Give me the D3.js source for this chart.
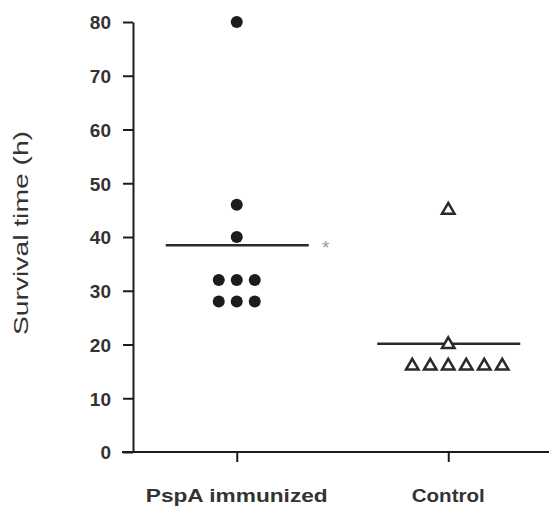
<!DOCTYPE html>
<html>
<head>
<meta charset="utf-8">
<script src="https://cdn.jsdelivr.net/npm/d3@7/dist/d3.min.js"></script>
<style>
  html, body { margin: 0; padding: 0; background: #fff; }
  svg { display: block; }
  text { font-family: Arial, "Liberation Sans", sans-serif; }
</style>
</head>
<body>
<svg id="chart" width="549" height="507"></svg>
<script>
// ---- data ----
const categories = ["PspA immunized", "Control"];
const pspaValues = [80, 46, 40, 32, 32, 32, 28, 28, 28];
const controlValues = [45, 20, 16, 16, 16, 16, 16, 16];
const yTicks = [0, 10, 20, 30, 40, 50, 60, 70, 80];
const yLabel = "Survival time (h)";
const significance = "*";

const groups = [
  { name: categories[0], values: pspaValues, shape: "circle" },
  { name: categories[1], values: controlValues, shape: "triangle" }
];

// ---- layout ----
const svg = d3.select("#chart");
const y = d3.scaleLinear().domain([0, 80]).range([452, 22]);
const x = d3.scalePoint().domain(categories).range([131, 554]).padding(0.5);
const axisX = 133;
const jitterStep = 18;
const ink = "#1c1c1c";
const textCol = "#333";

// y axis
const yAxis = d3.axisLeft(y).tickValues(yTicks).tickSize(10).tickPadding(12).tickSizeOuter(0);
const gy = svg.append("g").attr("transform", `translate(${axisX},0)`).call(yAxis);
gy.select(".domain").attr("stroke", ink).attr("stroke-width", 2);
gy.selectAll(".tick line").attr("stroke", ink).attr("stroke-width", 2);
gy.selectAll(".tick text")
  .attr("fill", textCol).attr("font-size", 19).attr("font-weight", "bold")
  .attr("dy", "0.36em");

// x axis
const xAxis = d3.axisBottom(x).tickSize(10).tickSizeOuter(0).tickFormat("");
const gx = svg.append("g").attr("transform", `translate(0,${y(0)})`).call(xAxis);
gx.select(".domain").attr("d", `M${axisX - 11},0H549`).attr("stroke", ink).attr("stroke-width", 2);
gx.selectAll(".tick line").attr("stroke", ink).attr("stroke-width", 2);

// category labels
svg.append("g").selectAll("text").data(categories).join("text")
  .attr("x", d => x(d)).attr("y", 502)
  .attr("text-anchor", "middle")
  .attr("font-size", 18.5).attr("font-weight", "bold").attr("fill", textCol)
  .attr("textLength", (d, i) => i === 0 ? 182 : 73)
  .attr("lengthAdjust", "spacingAndGlyphs")
  .text(d => d);

// y label
svg.append("text")
  .attr("transform", `translate(28,${(y(20) + y(60)) / 2 - 4}) rotate(-90)`)
  .attr("text-anchor", "middle")
  .attr("font-size", 20).attr("fill", textCol)
  .attr("textLength", 204).attr("lengthAdjust", "spacingAndGlyphs")
  .text(yLabel);

// points with horizontal spreading of equal values
groups.forEach(g => {
  const counts = {};
  g.values.forEach(v => counts[v] = (counts[v] || 0) + 1);
  const seen = {};
  const pts = g.values.map(v => {
    const i = seen[v] = (seen[v] === undefined ? 0 : seen[v] + 1);
    const n = counts[v];
    const slot = i - Math.floor((n - 1) / 2);
    return { v, cx: x(g.name) + slot * jitterStep, cy: y(v) };
  });

  const mean = d3.mean(g.values);
  svg.append("line")
    .attr("x1", x(g.name) - 71).attr("x2", x(g.name) + 72)
    .attr("y1", y(mean)).attr("y2", y(mean))
    .attr("stroke", "#2a2a2a").attr("stroke-width", 2.5);

  if (g.shape === "circle") {
    svg.append("g").selectAll("circle").data(pts).join("circle")
      .attr("cx", d => d.cx).attr("cy", d => d.cy).attr("r", 6)
      .attr("fill", ink);
  } else {
    const tri = d3.symbol().type(d3.symbolTriangle).size(68);
    svg.append("g").selectAll("path").data(pts).join("path")
      .attr("d", tri)
      .attr("transform", d => `translate(${d.cx},${d.cy})`)
      .attr("fill", "#fff").attr("stroke", "#2a2a2a").attr("stroke-width", 2.5)
      .attr("stroke-linejoin", "miter");
  }

  if (g.name === categories[0]) {
    svg.append("text")
      .attr("x", x(g.name) + 89).attr("y", y(mean) + 9)
      .attr("text-anchor", "middle")
      .attr("font-size", 19).attr("fill", "#999")
      .text(significance);
  }
});
</script>
</body>
</html>
